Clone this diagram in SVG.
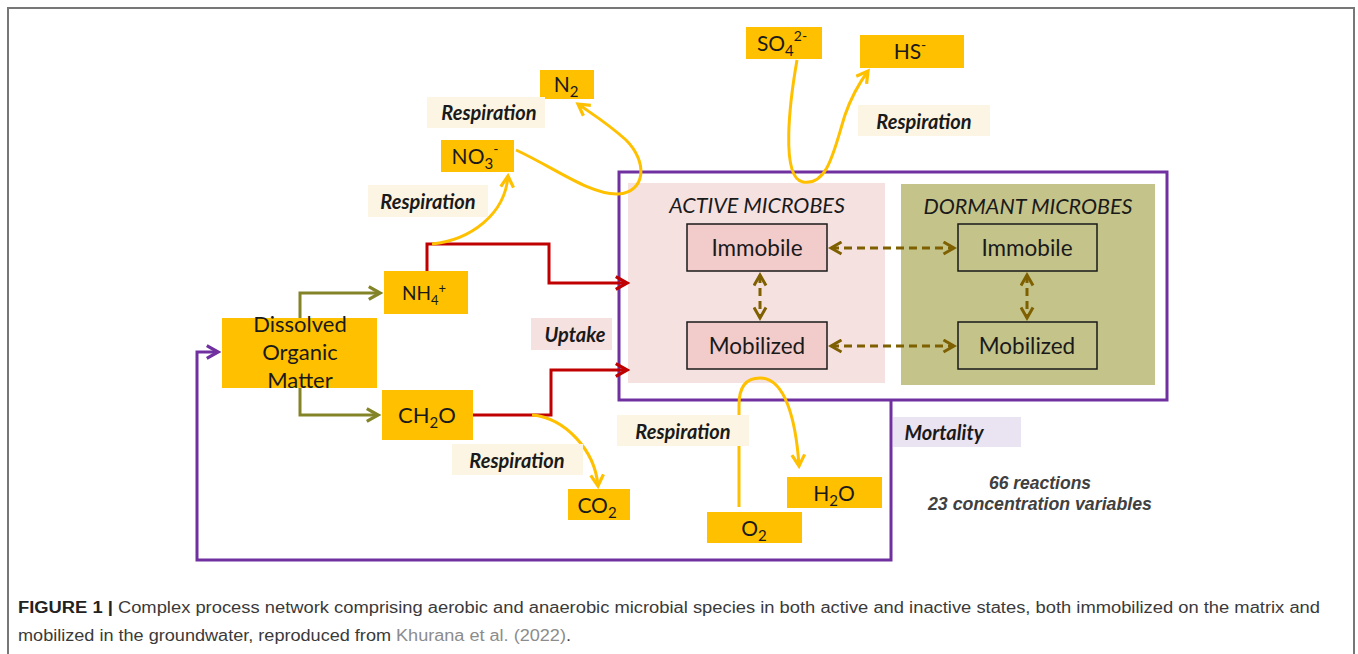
<svg xmlns="http://www.w3.org/2000/svg" width="1358" height="654" viewBox="0 0 1358 654">
<defs>
<style>
.sp{fill:#FFC000}
.lbl{font-family:Lato,"Liberation Sans",sans-serif;fill:#1a1a1a;text-anchor:middle}
.big{font-size:22px}
.mt{font-size:22.5px}
.resp{font-family:Lato,"Liberation Sans",sans-serif;font-size:20px;font-weight:bold;font-style:italic;fill:#1a1a1a;text-anchor:middle}
.rbg{fill:#FDF5E4}
.mic{fill:none;stroke:#1a1a1a;stroke-width:1.5}
.y{fill:none;stroke:#FFC000;stroke-width:3}
.r{fill:none;stroke:#C00000;stroke-width:3}
.o{fill:none;stroke:#838428;stroke-width:3}
.p{fill:none;stroke:#7030A0;stroke-width:3}
.d{fill:none;stroke:#7F6000;stroke-width:3;stroke-dasharray:8 5}
.cap{font-family:"Liberation Sans",Arial,sans-serif;font-size:16px;fill:#3a3a3a}
.stat{font-family:"Liberation Sans",Arial,sans-serif;font-size:17.5px;font-weight:bold;font-style:italic;fill:#404040;text-anchor:middle}
</style>
<marker id="ay" viewBox="0 0 10 10" refX="8" refY="5" markerUnits="userSpaceOnUse" markerWidth="16" markerHeight="16" orient="auto"><path d="M1,1 L8,5 L1,9" fill="none" stroke="#FFC000" stroke-width="2"/></marker>
<marker id="ar" viewBox="0 0 10 10" refX="8" refY="5" markerUnits="userSpaceOnUse" markerWidth="16" markerHeight="16" orient="auto"><path d="M1,1 L8,5 L1,9" fill="none" stroke="#C00000" stroke-width="2"/></marker>
<marker id="ao" viewBox="0 0 10 10" refX="8" refY="5" markerUnits="userSpaceOnUse" markerWidth="16" markerHeight="16" orient="auto"><path d="M1,1 L8,5 L1,9" fill="none" stroke="#838428" stroke-width="2"/></marker>
<marker id="ap" viewBox="0 0 10 10" refX="8" refY="5" markerUnits="userSpaceOnUse" markerWidth="16" markerHeight="16" orient="auto"><path d="M1,1 L8,5 L1,9" fill="none" stroke="#7030A0" stroke-width="2"/></marker>
<marker id="ad" viewBox="0 0 10 10" refX="8" refY="5" markerUnits="userSpaceOnUse" markerWidth="15" markerHeight="15" orient="auto-start-reverse"><path d="M1,1 L8,5 L1,9" fill="none" stroke="#7F6000" stroke-width="2"/></marker>
</defs>
<rect width="1358" height="654" fill="#fff"/>
<path d="M8 660 V8 H1354 V660" fill="none" stroke="#777" stroke-width="2"/>

<g id="group-active"><rect x="628" y="183" width="257" height="200" fill="#F6E1E1"/><text class="lbl" x="757" y="213" font-size="21.5" font-style="italic">ACTIVE MICROBES</text></g>
<g id="group-dormant"><rect x="901" y="184" width="254" height="201" fill="#C3C38A"/><text class="lbl" x="1028" y="214" font-size="21.5" font-style="italic">DORMANT MICROBES</text></g>
<g id="microbes-box"><rect x="619" y="172" width="548" height="228" class="p"/></g>

<g id="connectors">
<path class="o" d="M300 318 V293 H380" marker-end="url(#ao)"/>
<path class="o" d="M300 388 V415 H378" marker-end="url(#ao)"/>
<path class="r" d="M427 271 V244 H549 V283 H627" marker-end="url(#ar)"/>
<path class="r" d="M473 415 H551 V370 H627" marker-end="url(#ar)"/>
<path class="p" d="M891 400 V560 H197 V352 H218" marker-end="url(#ap)"/>
<path class="y" d="M432 244 C470 240 505 215 508 176" marker-end="url(#ay)"/>
<path class="y" d="M516 150 C555 168 590 195 618 194 C646 192 648 162 626 140 C606 122 592 114 578 104" marker-end="url(#ay)"/>
<path class="y" d="M797 60 C790 100 780 178 803 182 C828 186 834 150 845 115 C852 95 860 82 868 71" marker-end="url(#ay)"/>
<path class="y" d="M532 415 C565 418 595 450 598 486" marker-end="url(#ay)"/>
<path class="y" d="M739 507 V405 C739 385 748 378 760 378 C785 378 796 420 799 466" marker-end="url(#ay)"/>
<path class="d" d="M831 248 H954" marker-start="url(#ad)" marker-end="url(#ad)"/>
<path class="d" d="M831 346 H954" marker-start="url(#ad)" marker-end="url(#ad)"/>
<path class="d" d="M760 275 V318" marker-start="url(#ad)" marker-end="url(#ad)"/>
<path class="d" d="M1027 275 V318" marker-start="url(#ad)" marker-end="url(#ad)"/>
</g>

<g id="active-immobile"><rect x="687" y="224" width="140" height="47" fill="#F2CBCB"/><rect x="687" y="224" width="140" height="47" class="mic"/><text class="lbl mt" x="757" y="256">Immobile</text></g>
<g id="active-mobilized"><rect x="687" y="322" width="140" height="47" fill="#F2CBCB"/><rect x="687" y="322" width="140" height="47" class="mic"/><text class="lbl mt" x="757" y="354">Mobilized</text></g>
<g id="dormant-immobile"><rect x="958" y="224" width="139" height="47" class="mic"/><text class="lbl mt" x="1027" y="256">Immobile</text></g>
<g id="dormant-mobilized"><rect x="958" y="322" width="139" height="47" class="mic"/><text class="lbl mt" x="1027" y="354">Mobilized</text></g>

<g id="dom"><rect class="sp" x="222" y="318" width="155" height="70"/><text class="lbl big" x="300" y="332">Dissolved</text><text class="lbl big" x="300" y="360">Organic</text><text class="lbl big" x="300" y="388">Matter</text></g>
<g id="nh4"><rect class="sp" x="384" y="271" width="84" height="43"/><text class="lbl" x="424" y="300" font-size="19">NH<tspan font-size="13" dy="5">4</tspan><tspan font-size="13" dy="-12">+</tspan></text></g>
<g id="ch2o"><rect class="sp" x="382" y="390" width="91" height="50"/><text class="lbl big" x="427" y="423">CH<tspan font-size="15" dy="5">2</tspan><tspan dy="-5">O</tspan></text></g>
<g id="no3"><rect class="sp" x="441" y="140" width="73" height="32"/><text class="lbl" x="475" y="164" font-size="21">NO<tspan font-size="15" dy="5">3</tspan><tspan font-size="14" dy="-15">-</tspan></text></g>
<g id="n2"><rect class="sp" x="540" y="70" width="54" height="29"/><text class="lbl" x="566" y="92" font-size="21">N<tspan font-size="15" dy="5">2</tspan></text></g>
<g id="so4"><rect class="sp" x="746" y="27" width="76" height="32"/><text class="lbl" x="782" y="51" font-size="21">SO<tspan font-size="15" dy="5">4</tspan><tspan font-size="14" dy="-15">2-</tspan></text></g>
<g id="hs"><rect class="sp" x="860" y="35" width="104" height="33"/><text class="lbl" x="910" y="59" font-size="21">HS<tspan font-size="14" dy="-9">-</tspan></text></g>
<g id="co2"><rect class="sp" x="568" y="489" width="62" height="31"/><text class="lbl" x="597" y="513" font-size="21">CO<tspan font-size="15" dy="5">2</tspan></text></g>
<g id="h2o"><rect class="sp" x="787" y="477" width="95" height="31"/><text class="lbl" x="834" y="501" font-size="21">H<tspan font-size="15" dy="5">2</tspan><tspan dy="-5">O</tspan></text></g>
<g id="o2"><rect class="sp" x="707" y="512" width="95" height="31"/><text class="lbl" x="754" y="536" font-size="21">O<tspan font-size="15" dy="5">2</tspan></text></g>

<g id="labels">
<rect class="rbg" x="427" y="97" width="118" height="31"/><text class="resp" x="489" y="120">Respiration</text>
<rect class="rbg" x="368" y="185" width="120" height="32"/><text class="resp" x="428" y="209">Respiration</text>
<rect class="rbg" x="858" y="105" width="132" height="31"/><text class="resp" x="924" y="129">Respiration</text>
<rect class="rbg" x="452" y="444" width="131" height="31"/><text class="resp" x="517" y="468">Respiration</text>
<rect class="rbg" x="617" y="415" width="132" height="31"/><text class="resp" x="683" y="439">Respiration</text>
<rect x="531" y="318" width="81" height="32" fill="#F6E1E1"/><text class="resp" x="575" y="342">Uptake</text>
<rect x="893" y="417" width="128" height="30" fill="#EAE3F1"/><text class="resp" x="944" y="440">Mortality</text>
<text class="stat" x="1040" y="489">66 reactions</text>
<text class="stat" x="1040" y="510" textLength="224" lengthAdjust="spacingAndGlyphs">23 concentration variables</text>
</g>

<g id="caption">
<text class="cap" x="18" y="613" textLength="1302" lengthAdjust="spacingAndGlyphs"><tspan font-weight="bold" fill="#222">FIGURE 1 |</tspan> Complex process network comprising aerobic and anaerobic microbial species in both active and inactive states, both immobilized on the matrix and</text>
<text class="cap" x="18" y="641" textLength="553" lengthAdjust="spacingAndGlyphs">mobilized in the groundwater, reproduced from <tspan fill="#8C8C8C">Khurana et al. (2022)</tspan>.</text>
</g>
</svg>
